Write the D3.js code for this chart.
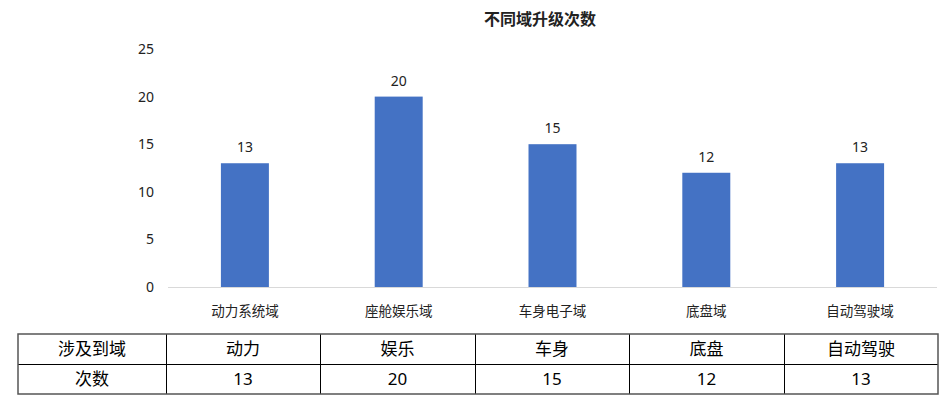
<!DOCTYPE html>
<html lang="zh">
<head>
    <meta charset="UTF-8">
    <title>不同域升级次数</title>
    <script src="https://d3js.org/d3.v7.min.js"></script>
    <style>
        body {
            margin: 0;
            background: #fff;
        }
        svg text {
            font-family: "Noto Sans", "Noto Sans CJK SC", sans-serif;
            fill: #222;
        }
    </style>
</head>
<body>
    <script>
        // chart data
        const title = "不同域升级次数";
        const categories = ["动力系统域", "座舱娱乐域", "车身电子域", "底盘域", "自动驾驶域"];
        const values = [13, 20, 15, 12, 13];
        const yTicks = [0, 5, 10, 15, 20, 25];

        // table data
        const rowHeaders = ["涉及到域", "次数"];
        const shortNames = ["动力", "娱乐", "车身", "底盘", "自动驾驶"];

        const width = 949;
        const height = 403;

        const svg = d3.select("body").append("svg")
            .attr("width", width)
            .attr("height", height);

        // scales
        const x = d3.scaleBand()
            .domain(categories)
            .range([168, 937])
            .paddingInner(0.688)
            .paddingOuter(0.344);

        const y = d3.scaleLinear()
            .domain([0, 25])
            .range([287, 49]);

        // title
        svg.append("text")
            .attr("x", 540)
            .attr("y", 25)
            .attr("text-anchor", "middle")
            .style("font-size", "16px")
            .style("font-weight", "bold")
            .text(title);

        // y axis labels (no line, no gridlines)
        svg.append("g")
            .selectAll("text")
            .data(yTicks)
            .join("text")
            .attr("x", 154)
            .attr("y", d => y(d))
            .attr("dy", "0.35em")
            .attr("text-anchor", "end")
            .style("font-size", "14px")
            .text(d => d);

        // bars
        svg.append("g")
            .selectAll("rect")
            .data(values)
            .join("rect")
            .attr("x", (d, i) => x(categories[i]))
            .attr("y", d => y(d))
            .attr("width", x.bandwidth())
            .attr("height", d => y(0) - y(d))
            .attr("fill", "#4472c4");

        // baseline
        svg.append("line")
            .attr("x1", 168)
            .attr("x2", 937)
            .attr("y1", y(0) + 0.5)
            .attr("y2", y(0) + 0.5)
            .attr("stroke", "#d9d9d9")
            .attr("stroke-width", 1);

        // value labels
        svg.append("g")
            .selectAll("text")
            .data(values)
            .join("text")
            .attr("x", (d, i) => x(categories[i]) + x.bandwidth() / 2)
            .attr("y", d => y(d) - 11)
            .attr("text-anchor", "middle")
            .style("font-size", "14px")
            .text(d => d);

        // category labels
        svg.append("g")
            .selectAll("text")
            .data(categories)
            .join("text")
            .attr("x", d => x(d) + x.bandwidth() / 2)
            .attr("y", 311)
            .attr("dy", "0.35em")
            .attr("text-anchor", "middle")
            .style("font-size", "13.5px")
            .text(d => d);

        // data table below the chart
        const colEdges = [18, 166, 320, 475, 629, 784, 938];
        const rowEdges = [334, 364, 394];
        const rows = [
            [rowHeaders[0], ...shortNames],
            [rowHeaders[1], ...values]
        ];

        const table = svg.append("g");

        rows.forEach((row, r) => {
            row.forEach((cell, c) => {
                table.append("text")
                    .attr("x", (colEdges[c] + colEdges[c + 1]) / 2)
                    .attr("y", (rowEdges[r] + rowEdges[r + 1]) / 2)
                    .attr("dy", "0.36em")
                    .attr("text-anchor", "middle")
                    .style("font-size", "17px")
                    .style("fill", "#000")
                    .text(cell);
            });
        });

        // inner grid lines
        table.selectAll("line.v")
            .data(colEdges.slice(1, -1))
            .join("line")
            .attr("x1", d => d + 0.5)
            .attr("x2", d => d + 0.5)
            .attr("y1", rowEdges[0])
            .attr("y2", rowEdges[2])
            .attr("stroke", "#000");

        table.append("line")
            .attr("x1", colEdges[0])
            .attr("x2", colEdges[6])
            .attr("y1", rowEdges[1] + 0.5)
            .attr("y2", rowEdges[1] + 0.5)
            .attr("stroke", "#000");

        // outer border
        table.append("rect")
            .attr("x", colEdges[0])
            .attr("y", rowEdges[0])
            .attr("width", colEdges[6] - colEdges[0])
            .attr("height", rowEdges[2] - rowEdges[0])
            .attr("fill", "none")
            .attr("stroke", "#555")
            .attr("stroke-width", 1.5);
    </script>
</body>
</html>
